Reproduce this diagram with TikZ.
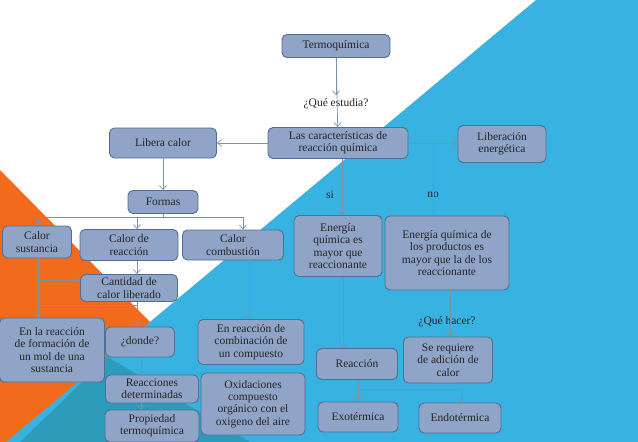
\documentclass[tikz,border=0pt]{standalone}
\usepackage{fontspec}
\setmainfont{Liberation Serif}
\usetikzlibrary{arrows.meta}

\definecolor{fondoazul}{HTML}{38B2E0}
\definecolor{fondoteal}{HTML}{2C9CBA}
\definecolor{naranja}{HTML}{F26B1D}
\definecolor{cajafill}{HTML}{8FA4C6}
\definecolor{cajaborde}{HTML}{4F6F98}
\definecolor{flecha}{HTML}{7C93A6}

\tikzset{
  caja/.style={draw=cajaborde, fill=cajafill, line width=0.9pt, rounded corners=5pt,
    align=center, inner sep=0pt, font=\fontsize{11.5}{12.3}\selectfont, text=black!85},
  etiqueta/.style={font=\fontsize{11.5}{12.3}\selectfont, text=black!85},
  flechita/.style={draw=flecha, line width=0.7pt, -{Straight Barb[length=4pt,width=7pt]}},
  linea/.style={draw=flecha, line width=0.7pt}
}

\begin{document}
\begin{tikzpicture}[x=1pt,y=-1pt]
            \useasboundingbox (0,0) rectangle (638,442);

            % fondo
            \fill[white] (0,0) rectangle (638,442);
            \fill[naranja] (0,170) -- (150,322) -- (20,442) -- (0,442) -- cycle;
            \fill[fondoazul] (536,0) -- (638,0) -- (638,442) -- (6,442) -- cycle;
            \fill[fondoteal] (108,357) -- (250,442) -- (20,442) -- cycle;

            % nivel superior
            \node[caja, minimum width=108, minimum height=23] (termo) at (336,46) {Termoquímica};
            \node[etiqueta] (estudia) at (336,104) {¿Qué estudia?};
            \node[caja, minimum width=140, minimum height=31] (caract) at (338,143) {Las características de\\reacción química};
            \node[caja, minimum width=107, minimum height=30] (libera) at (163,143) {Libera calor};
            \node[caja, minimum width=88, minimum height=37] (liber) at (502,144) {Liberación\\energética};

            % formas
            \node[caja, minimum width=70, minimum height=23] (formas) at (163,202) {Formas};
            \node[caja, minimum width=69, minimum height=32] (sust) at (37,242) {Calor\\sustancia};
            \node[caja, minimum width=98, minimum height=31] (creac) at (129,245) {Calor \large de\\reacción};
            \node[caja, minimum width=101, minimum height=30] (ccomb) at (233,245) {Calor\\combustión};
            \node[caja, minimum width=97, minimum height=27] (cantidad) at (129,288) {Cantidad de\\calor liberado};
            \node[caja, minimum width=105, minimum height=64] (formacion) at (52,350) {En la reacción\\de formación de\\un mol de una\\sustancia};
            \node[caja, minimum width=69, minimum height=30] (donde) at (140,342) {¿donde?};
            \node[caja, minimum width=93, minimum height=28] (determ) at (152,389) {Reacciones\\determinadas};
            \node[caja, minimum width=94, minimum height=32] (propiedad) at (152,426) {Propiedad\\termoquímica};
            \node[caja, minimum width=106, minimum height=45] (combin) at (251,342) {En reacción de\\combinación de\\un compuesto};
            \node[caja, minimum width=104, minimum height=62] (oxid) at (253,404) {Oxidaciones\\compuesto\\orgánico con el\\oxigeno del aire};

            % rama si / no
            \node[etiqueta] (si) at (330,195) {si};
            \node[etiqueta] (no) at (433,195) {no};
            \node[caja, minimum width=88, minimum height=61] (emayor) at (338,246) {Energía\\química es\\mayor que\\reaccionante};
            \node[caja, minimum width=124, minimum height=74] (eprod) at (447,253) {Energía química de\\los productos es\\mayor que la de los\\reaccionante};
            \node[etiqueta] (hacer) at (447,322) {¿Qué hacer?};
            \node[caja, minimum width=81, minimum height=31] (reaccion) at (357,364) {Reacción};
            \node[caja, minimum width=89, minimum height=46] (requiere) at (448,360) {Se requiere\\de adición de\\calor};
            \node[caja, minimum width=80, minimum height=30] (exo) at (358,417) {Exotérmica};
            \node[caja, minimum width=82, minimum height=30] (endo) at (460,418) {Endotérmica};

            % conectores superiores
            \draw[flechita] (termo) -- (estudia);
            \draw[flechita] (termo) -- (caract);
            \draw[flechita] (caract) -- (libera);
            \draw[flechita] (caract) -- (liber);
            \draw[flechita] (libera) -- (formas);

            % conectores de formas
            \coordinate (fb) at (163,217);
            \draw[linea] (formas) -- (fb);
            \draw[linea] (38,217) -- (243,217);
            \draw[flechita] (38,217) -- (sust.north -| 38,0);
            \draw[flechita] (137,217) -- (creac.north -| 137,0);
            \draw[flechita] (243,217) -- (ccomb.north -| 243,0);
            \draw[flechita] (creac.south -| 137,0) -- (cantidad.north -| 137,0);
            \draw[flechita] (sust.south -| 38,0) -- (formacion.north -| 38,0);
            \draw[flechita] (38,280) -- (cantidad.west |- 0,280);
            \draw[linea] (38,305) -- (137,305);
            \draw[flechita] (cantidad.south -| 137,0) -- (donde.north -| 137,0);
            \draw[flechita] (donde.south -| 141,0) -- (determ.north -| 141,0);
            \draw[flechita] (determ.south -| 141,0) -- (propiedad.north -| 141,0);
            \draw[flechita] (ccomb.south -| 249,0) -- (combin.north -| 249,0);

            % conectores si / no
            \draw[flechita] (caract.south -| 342,0) -- (emayor.north -| 342,0);
            \draw[linea] (433,143) -- (eprod.north -| 433,0);
            \draw[flechita] (emayor.south -| 343,0) -- (reaccion.north -| 343,0);
            \draw[flechita] (eprod.south -| 450,0) -- (requiere.north -| 450,0);
            \draw[linea] (reaccion.south -| 358,0) -- (358,389) -- (461,389);
            \draw[flechita] (358,389) -- (exo.north -| 358,0);
            \draw[flechita] (461,389) -- (endo.north -| 461,0);
\end{tikzpicture}
\end{document}
